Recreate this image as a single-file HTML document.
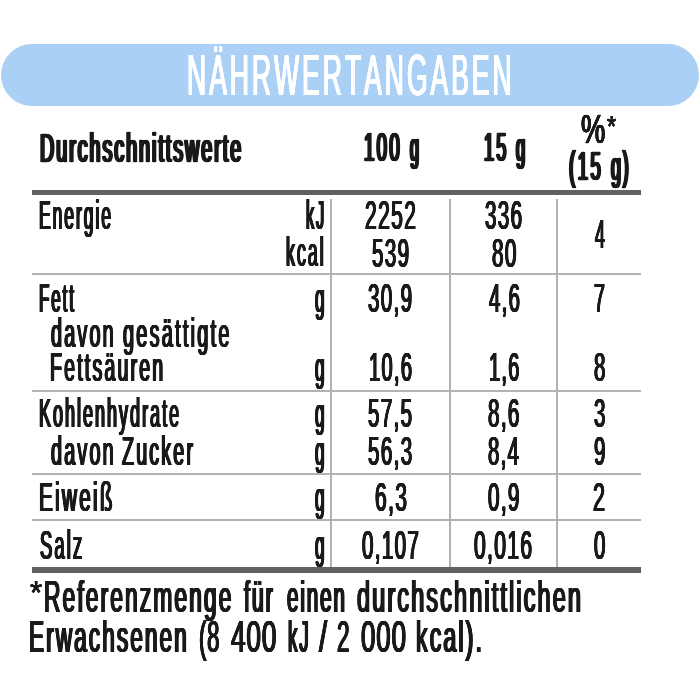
<!DOCTYPE html>
<html lang="de"><head><meta charset="utf-8"><title>Nährwertangaben</title>
<style>
html,body{margin:0;padding:0;background:#fff;}
body{width:700px;height:700px;position:relative;overflow:hidden;font-family:"Liberation Sans",sans-serif;color:#1a1a1a;}
.banner{position:absolute;left:1px;top:43.6px;width:697.5px;height:62px;border-radius:31px;background:#abd0f6;}
.x{position:absolute;white-space:nowrap;transform-origin:0 0;line-height:0;height:0;font-kerning:none;}
.t{color:#fff;font-weight:400;}
.h,.hn{font-weight:400;-webkit-text-stroke:0.7px #1a1a1a;}
.hp{font-weight:400;-webkit-text-stroke:0.5px #1a1a1a;}
.b,.n,.f,.fn{font-weight:400;}
.hl{position:absolute;left:32px;width:609px;background:#b2b2b2;height:2px;}
.tk{position:absolute;left:32px;width:609px;background:#606060;height:5.2px;}
.vl{position:absolute;top:199px;height:368px;width:2px;background:#b2b2b2;}
</style></head><body>
<div class="banner"></div>
<div class="tk" style="top:190px;height:5px"></div>
<div class="tk" style="top:567px;height:6px"></div>
<div class="hl" style="top:273px"></div>
<div class="hl" style="top:390px"></div>
<div class="hl" style="top:473px"></div>
<div class="hl" style="top:519px"></div>
<div class="vl" style="left:330px"></div>
<div class="vl" style="left:449px"></div>
<div class="vl" style="left:556px"></div>
<div class="x t" style="left:187.17px;top:74.90px;font-size:58.0px;transform:scaleX(0.4575);letter-spacing:6.50px;text-shadow:0.36px 0 0 #fff,-0.36px 0 0 #fff,0.73px 0 0 #fff,-0.73px 0 0 #fff,1.09px 0 0 #fff,-1.09px 0 0 #fff">NÄHRWERTANGABEN</div>
<div class="x h" style="left:39.54px;top:147.54px;font-size:40.0px;transform:scaleX(0.4931);letter-spacing:4.00px;text-shadow:0.84px 0 0 #1a1a1a,-0.84px 0 0 #1a1a1a,1.69px 0 0 #1a1a1a,-1.69px 0 0 #1a1a1a,2.53px 0 0 #1a1a1a,-2.53px 0 0 #1a1a1a">Durchschnittswerte</div>
<div class="x hn" style="left:363.52px;top:147.44px;font-size:40.0px;transform:scaleX(0.4659);letter-spacing:5.00px;text-shadow:0.82px 0 0 #1a1a1a,-0.82px 0 0 #1a1a1a,1.65px 0 0 #1a1a1a,-1.65px 0 0 #1a1a1a,2.47px 0 0 #1a1a1a,-2.47px 0 0 #1a1a1a">100</div>
<div class="x h" style="left:409.99px;top:147.44px;font-size:40.0px;transform:scaleX(0.4010);text-shadow:1.04px 0 0 #1a1a1a,-1.04px 0 0 #1a1a1a,2.08px 0 0 #1a1a1a,-2.08px 0 0 #1a1a1a,3.12px 0 0 #1a1a1a,-3.12px 0 0 #1a1a1a">g</div>
<div class="x hn" style="left:483.56px;top:147.44px;font-size:40.0px;transform:scaleX(0.4505);letter-spacing:5.00px;text-shadow:0.85px 0 0 #1a1a1a,-0.85px 0 0 #1a1a1a,1.70px 0 0 #1a1a1a,-1.70px 0 0 #1a1a1a,2.55px 0 0 #1a1a1a,-2.55px 0 0 #1a1a1a">15</div>
<div class="x h" style="left:515.98px;top:147.44px;font-size:40.0px;transform:scaleX(0.4112);text-shadow:1.01px 0 0 #1a1a1a,-1.01px 0 0 #1a1a1a,2.03px 0 0 #1a1a1a,-2.03px 0 0 #1a1a1a,3.04px 0 0 #1a1a1a,-3.04px 0 0 #1a1a1a">g</div>
<div class="x hp" style="left:580.79px;top:128.74px;font-size:40.0px;transform:scaleX(0.6812);text-shadow:0.29px 0 0 #1a1a1a,-0.29px 0 0 #1a1a1a,0.59px 0 0 #1a1a1a,-0.59px 0 0 #1a1a1a,0.88px 0 0 #1a1a1a,-0.88px 0 0 #1a1a1a">%</div>
<div class="x ha" style="left:607.35px;top:125.78px;font-size:29.5px;transform:scaleX(0.8000);text-shadow:0.15px 0 0 #1a1a1a,-0.15px 0 0 #1a1a1a,0.29px 0 0 #1a1a1a,-0.29px 0 0 #1a1a1a,0.44px 0 0 #1a1a1a,-0.44px 0 0 #1a1a1a">*</div>
<div class="x hn" style="left:568.87px;top:166.34px;font-size:40.0px;transform:scaleX(0.4704);letter-spacing:5.00px;text-shadow:0.81px 0 0 #1a1a1a,-0.81px 0 0 #1a1a1a,1.63px 0 0 #1a1a1a,-1.63px 0 0 #1a1a1a,2.44px 0 0 #1a1a1a,-2.44px 0 0 #1a1a1a">(15</div>
<div class="x h" style="left:611.46px;top:166.34px;font-size:40.0px;transform:scaleX(0.4466);letter-spacing:4.00px;text-shadow:0.93px 0 0 #1a1a1a,-0.93px 0 0 #1a1a1a,1.87px 0 0 #1a1a1a,-1.87px 0 0 #1a1a1a,2.80px 0 0 #1a1a1a,-2.80px 0 0 #1a1a1a">g)</div>
<div class="x b" style="left:38.79px;top:214.64px;font-size:40.0px;transform:scaleX(0.4370);letter-spacing:4.50px;text-shadow:0.53px 0 0 #1a1a1a,-0.53px 0 0 #1a1a1a,1.07px 0 0 #1a1a1a,-1.07px 0 0 #1a1a1a,1.60px 0 0 #1a1a1a,-1.60px 0 0 #1a1a1a">Energie</div>
<div class="x b" style="left:305.88px;top:214.64px;font-size:40.0px;transform:scaleX(0.4099);letter-spacing:4.50px;text-shadow:0.57px 0 0 #1a1a1a,-0.57px 0 0 #1a1a1a,1.14px 0 0 #1a1a1a,-1.14px 0 0 #1a1a1a,1.71px 0 0 #1a1a1a,-1.71px 0 0 #1a1a1a">kJ</div>
<div class="x b" style="left:286.41px;top:252.44px;font-size:40.0px;transform:scaleX(0.4458);letter-spacing:4.50px;text-shadow:0.52px 0 0 #1a1a1a,-0.52px 0 0 #1a1a1a,1.05px 0 0 #1a1a1a,-1.05px 0 0 #1a1a1a,1.57px 0 0 #1a1a1a,-1.57px 0 0 #1a1a1a">kcal</div>
<div class="x n" style="left:365.13px;top:214.64px;font-size:40.0px;transform:scaleX(0.5264);letter-spacing:2.60px;text-shadow:0.37px 0 0 #1a1a1a,-0.37px 0 0 #1a1a1a,0.73px 0 0 #1a1a1a,-0.73px 0 0 #1a1a1a,1.10px 0 0 #1a1a1a,-1.10px 0 0 #1a1a1a">2252</div>
<div class="x n" style="left:372.07px;top:252.54px;font-size:40.0px;transform:scaleX(0.5143);letter-spacing:2.60px;text-shadow:0.38px 0 0 #1a1a1a,-0.38px 0 0 #1a1a1a,0.75px 0 0 #1a1a1a,-0.75px 0 0 #1a1a1a,1.13px 0 0 #1a1a1a,-1.13px 0 0 #1a1a1a">539</div>
<div class="x n" style="left:485.07px;top:214.64px;font-size:40.0px;transform:scaleX(0.5143);letter-spacing:2.60px;text-shadow:0.38px 0 0 #1a1a1a,-0.38px 0 0 #1a1a1a,0.75px 0 0 #1a1a1a,-0.75px 0 0 #1a1a1a,1.13px 0 0 #1a1a1a,-1.13px 0 0 #1a1a1a">336</div>
<div class="x n" style="left:491.66px;top:252.54px;font-size:40.0px;transform:scaleX(0.5182);letter-spacing:2.60px;text-shadow:0.37px 0 0 #1a1a1a,-0.37px 0 0 #1a1a1a,0.75px 0 0 #1a1a1a,-0.75px 0 0 #1a1a1a,1.12px 0 0 #1a1a1a,-1.12px 0 0 #1a1a1a">80</div>
<div class="x n" style="left:594.58px;top:233.54px;font-size:40.0px;transform:scaleX(0.4473);text-shadow:0.43px 0 0 #1a1a1a,-0.43px 0 0 #1a1a1a,0.86px 0 0 #1a1a1a,-0.86px 0 0 #1a1a1a,1.30px 0 0 #1a1a1a,-1.30px 0 0 #1a1a1a">4</div>
<div class="x b" style="left:38.83px;top:297.74px;font-size:40.0px;transform:scaleX(0.4237);letter-spacing:4.50px;text-shadow:0.55px 0 0 #1a1a1a,-0.55px 0 0 #1a1a1a,1.10px 0 0 #1a1a1a,-1.10px 0 0 #1a1a1a,1.65px 0 0 #1a1a1a,-1.65px 0 0 #1a1a1a">Fett</div>
<div class="x b" style="left:314.67px;top:297.74px;font-size:40.0px;transform:scaleX(0.4316);text-shadow:0.54px 0 0 #1a1a1a,-0.54px 0 0 #1a1a1a,1.08px 0 0 #1a1a1a,-1.08px 0 0 #1a1a1a,1.62px 0 0 #1a1a1a,-1.62px 0 0 #1a1a1a">g</div>
<div class="x n" style="left:368.47px;top:297.74px;font-size:40.0px;transform:scaleX(0.5136);letter-spacing:2.60px;text-shadow:0.38px 0 0 #1a1a1a,-0.38px 0 0 #1a1a1a,0.75px 0 0 #1a1a1a,-0.75px 0 0 #1a1a1a,1.13px 0 0 #1a1a1a,-1.13px 0 0 #1a1a1a">30,9</div>
<div class="x n" style="left:488.58px;top:297.74px;font-size:40.0px;transform:scaleX(0.5077);letter-spacing:2.60px;text-shadow:0.38px 0 0 #1a1a1a,-0.38px 0 0 #1a1a1a,0.76px 0 0 #1a1a1a,-0.76px 0 0 #1a1a1a,1.14px 0 0 #1a1a1a,-1.14px 0 0 #1a1a1a">4,6</div>
<div class="x n" style="left:593.61px;top:297.74px;font-size:40.0px;transform:scaleX(0.4863);text-shadow:0.40px 0 0 #1a1a1a,-0.40px 0 0 #1a1a1a,0.80px 0 0 #1a1a1a,-0.80px 0 0 #1a1a1a,1.19px 0 0 #1a1a1a,-1.19px 0 0 #1a1a1a">7</div>
<div class="x b" style="left:50.51px;top:332.54px;font-size:40.0px;transform:scaleX(0.4930);letter-spacing:4.50px;text-shadow:0.47px 0 0 #1a1a1a,-0.47px 0 0 #1a1a1a,0.95px 0 0 #1a1a1a,-0.95px 0 0 #1a1a1a,1.42px 0 0 #1a1a1a,-1.42px 0 0 #1a1a1a">davon</div>
<div class="x b" style="left:122.50px;top:332.54px;font-size:40.0px;transform:scaleX(0.4974);letter-spacing:4.50px;text-shadow:0.47px 0 0 #1a1a1a,-0.47px 0 0 #1a1a1a,0.94px 0 0 #1a1a1a,-0.94px 0 0 #1a1a1a,1.41px 0 0 #1a1a1a,-1.41px 0 0 #1a1a1a">gesättigte</div>
<div class="x b" style="left:50.23px;top:366.84px;font-size:40.0px;transform:scaleX(0.4884);letter-spacing:4.50px;text-shadow:0.48px 0 0 #1a1a1a,-0.48px 0 0 #1a1a1a,0.96px 0 0 #1a1a1a,-0.96px 0 0 #1a1a1a,1.43px 0 0 #1a1a1a,-1.43px 0 0 #1a1a1a">Fettsäuren</div>
<div class="x b" style="left:314.67px;top:366.84px;font-size:40.0px;transform:scaleX(0.4316);text-shadow:0.54px 0 0 #1a1a1a,-0.54px 0 0 #1a1a1a,1.08px 0 0 #1a1a1a,-1.08px 0 0 #1a1a1a,1.62px 0 0 #1a1a1a,-1.62px 0 0 #1a1a1a">g</div>
<div class="x n" style="left:369.47px;top:366.94px;font-size:40.0px;transform:scaleX(0.5017);letter-spacing:2.60px;text-shadow:0.39px 0 0 #1a1a1a,-0.39px 0 0 #1a1a1a,0.77px 0 0 #1a1a1a,-0.77px 0 0 #1a1a1a,1.16px 0 0 #1a1a1a,-1.16px 0 0 #1a1a1a">10,6</div>
<div class="x n" style="left:489.08px;top:366.94px;font-size:40.0px;transform:scaleX(0.4993);letter-spacing:2.60px;text-shadow:0.39px 0 0 #1a1a1a,-0.39px 0 0 #1a1a1a,0.77px 0 0 #1a1a1a,-0.77px 0 0 #1a1a1a,1.16px 0 0 #1a1a1a,-1.16px 0 0 #1a1a1a">1,6</div>
<div class="x n" style="left:593.67px;top:366.94px;font-size:40.0px;transform:scaleX(0.5120);text-shadow:0.38px 0 0 #1a1a1a,-0.38px 0 0 #1a1a1a,0.76px 0 0 #1a1a1a,-0.76px 0 0 #1a1a1a,1.13px 0 0 #1a1a1a,-1.13px 0 0 #1a1a1a">8</div>
<div class="x b" style="left:38.75px;top:413.14px;font-size:40.0px;transform:scaleX(0.4491);letter-spacing:4.50px;text-shadow:0.52px 0 0 #1a1a1a,-0.52px 0 0 #1a1a1a,1.04px 0 0 #1a1a1a,-1.04px 0 0 #1a1a1a,1.56px 0 0 #1a1a1a,-1.56px 0 0 #1a1a1a">Kohlenhydrate</div>
<div class="x b" style="left:314.67px;top:413.14px;font-size:40.0px;transform:scaleX(0.4316);text-shadow:0.54px 0 0 #1a1a1a,-0.54px 0 0 #1a1a1a,1.08px 0 0 #1a1a1a,-1.08px 0 0 #1a1a1a,1.62px 0 0 #1a1a1a,-1.62px 0 0 #1a1a1a">g</div>
<div class="x n" style="left:368.47px;top:413.14px;font-size:40.0px;transform:scaleX(0.5136);letter-spacing:2.60px;text-shadow:0.38px 0 0 #1a1a1a,-0.38px 0 0 #1a1a1a,0.75px 0 0 #1a1a1a,-0.75px 0 0 #1a1a1a,1.13px 0 0 #1a1a1a,-1.13px 0 0 #1a1a1a">57,5</div>
<div class="x n" style="left:488.06px;top:413.14px;font-size:40.0px;transform:scaleX(0.5164);letter-spacing:2.60px;text-shadow:0.37px 0 0 #1a1a1a,-0.37px 0 0 #1a1a1a,0.75px 0 0 #1a1a1a,-0.75px 0 0 #1a1a1a,1.12px 0 0 #1a1a1a,-1.12px 0 0 #1a1a1a">8,6</div>
<div class="x n" style="left:593.67px;top:413.14px;font-size:40.0px;transform:scaleX(0.5120);text-shadow:0.38px 0 0 #1a1a1a,-0.38px 0 0 #1a1a1a,0.76px 0 0 #1a1a1a,-0.76px 0 0 #1a1a1a,1.13px 0 0 #1a1a1a,-1.13px 0 0 #1a1a1a">3</div>
<div class="x b" style="left:50.51px;top:451.14px;font-size:40.0px;transform:scaleX(0.4930);letter-spacing:4.50px;text-shadow:0.47px 0 0 #1a1a1a,-0.47px 0 0 #1a1a1a,0.95px 0 0 #1a1a1a,-0.95px 0 0 #1a1a1a,1.42px 0 0 #1a1a1a,-1.42px 0 0 #1a1a1a">davon</div>
<div class="x b" style="left:122.01px;top:451.14px;font-size:40.0px;transform:scaleX(0.4901);letter-spacing:4.50px;text-shadow:0.48px 0 0 #1a1a1a,-0.48px 0 0 #1a1a1a,0.95px 0 0 #1a1a1a,-0.95px 0 0 #1a1a1a,1.43px 0 0 #1a1a1a,-1.43px 0 0 #1a1a1a">Zucker</div>
<div class="x b" style="left:314.67px;top:451.14px;font-size:40.0px;transform:scaleX(0.4316);text-shadow:0.54px 0 0 #1a1a1a,-0.54px 0 0 #1a1a1a,1.08px 0 0 #1a1a1a,-1.08px 0 0 #1a1a1a,1.62px 0 0 #1a1a1a,-1.62px 0 0 #1a1a1a">g</div>
<div class="x n" style="left:368.46px;top:451.14px;font-size:40.0px;transform:scaleX(0.5160);letter-spacing:2.60px;text-shadow:0.37px 0 0 #1a1a1a,-0.37px 0 0 #1a1a1a,0.75px 0 0 #1a1a1a,-0.75px 0 0 #1a1a1a,1.12px 0 0 #1a1a1a,-1.12px 0 0 #1a1a1a">56,3</div>
<div class="x n" style="left:488.07px;top:451.14px;font-size:40.0px;transform:scaleX(0.5077);letter-spacing:2.60px;text-shadow:0.38px 0 0 #1a1a1a,-0.38px 0 0 #1a1a1a,0.76px 0 0 #1a1a1a,-0.76px 0 0 #1a1a1a,1.14px 0 0 #1a1a1a,-1.14px 0 0 #1a1a1a">8,4</div>
<div class="x n" style="left:593.67px;top:451.14px;font-size:40.0px;transform:scaleX(0.5120);text-shadow:0.38px 0 0 #1a1a1a,-0.38px 0 0 #1a1a1a,0.76px 0 0 #1a1a1a,-0.76px 0 0 #1a1a1a,1.13px 0 0 #1a1a1a,-1.13px 0 0 #1a1a1a">9</div>
<div class="x b" style="left:38.55px;top:497.14px;font-size:40.0px;transform:scaleX(0.5156);letter-spacing:4.50px;text-shadow:0.45px 0 0 #1a1a1a,-0.45px 0 0 #1a1a1a,0.91px 0 0 #1a1a1a,-0.91px 0 0 #1a1a1a,1.36px 0 0 #1a1a1a,-1.36px 0 0 #1a1a1a">Eiweiß</div>
<div class="x b" style="left:314.67px;top:497.14px;font-size:40.0px;transform:scaleX(0.4316);text-shadow:0.54px 0 0 #1a1a1a,-0.54px 0 0 #1a1a1a,1.08px 0 0 #1a1a1a,-1.08px 0 0 #1a1a1a,1.62px 0 0 #1a1a1a,-1.62px 0 0 #1a1a1a">g</div>
<div class="x n" style="left:374.53px;top:497.14px;font-size:40.0px;transform:scaleX(0.5254);letter-spacing:2.60px;text-shadow:0.37px 0 0 #1a1a1a,-0.37px 0 0 #1a1a1a,0.74px 0 0 #1a1a1a,-0.74px 0 0 #1a1a1a,1.10px 0 0 #1a1a1a,-1.10px 0 0 #1a1a1a">6,3</div>
<div class="x n" style="left:487.66px;top:497.14px;font-size:40.0px;transform:scaleX(0.5164);letter-spacing:2.60px;text-shadow:0.37px 0 0 #1a1a1a,-0.37px 0 0 #1a1a1a,0.75px 0 0 #1a1a1a,-0.75px 0 0 #1a1a1a,1.12px 0 0 #1a1a1a,-1.12px 0 0 #1a1a1a">0,9</div>
<div class="x n" style="left:593.10px;top:497.14px;font-size:40.0px;transform:scaleX(0.5389);text-shadow:0.36px 0 0 #1a1a1a,-0.36px 0 0 #1a1a1a,0.72px 0 0 #1a1a1a,-0.72px 0 0 #1a1a1a,1.08px 0 0 #1a1a1a,-1.08px 0 0 #1a1a1a">2</div>
<div class="x b" style="left:39.64px;top:545.44px;font-size:40.0px;transform:scaleX(0.4613);letter-spacing:4.50px;text-shadow:0.51px 0 0 #1a1a1a,-0.51px 0 0 #1a1a1a,1.01px 0 0 #1a1a1a,-1.01px 0 0 #1a1a1a,1.52px 0 0 #1a1a1a,-1.52px 0 0 #1a1a1a">Salz</div>
<div class="x b" style="left:314.67px;top:545.44px;font-size:40.0px;transform:scaleX(0.4316);text-shadow:0.54px 0 0 #1a1a1a,-0.54px 0 0 #1a1a1a,1.08px 0 0 #1a1a1a,-1.08px 0 0 #1a1a1a,1.62px 0 0 #1a1a1a,-1.62px 0 0 #1a1a1a">g</div>
<div class="x n" style="left:361.67px;top:545.44px;font-size:40.0px;transform:scaleX(0.5140);letter-spacing:2.60px;text-shadow:0.38px 0 0 #1a1a1a,-0.38px 0 0 #1a1a1a,0.75px 0 0 #1a1a1a,-0.75px 0 0 #1a1a1a,1.13px 0 0 #1a1a1a,-1.13px 0 0 #1a1a1a">0,107</div>
<div class="x n" style="left:474.45px;top:545.44px;font-size:40.0px;transform:scaleX(0.5251);letter-spacing:2.60px;text-shadow:0.37px 0 0 #1a1a1a,-0.37px 0 0 #1a1a1a,0.74px 0 0 #1a1a1a,-0.74px 0 0 #1a1a1a,1.10px 0 0 #1a1a1a,-1.10px 0 0 #1a1a1a">0,016</div>
<div class="x n" style="left:593.67px;top:545.44px;font-size:40.0px;transform:scaleX(0.5120);text-shadow:0.38px 0 0 #1a1a1a,-0.38px 0 0 #1a1a1a,0.76px 0 0 #1a1a1a,-0.76px 0 0 #1a1a1a,1.13px 0 0 #1a1a1a,-1.13px 0 0 #1a1a1a">0</div>
<div class="x ha" style="left:29.55px;top:592.99px;font-size:33.5px;transform:scaleX(0.9308);text-shadow:0.13px 0 0 #1a1a1a,-0.13px 0 0 #1a1a1a,0.25px 0 0 #1a1a1a,-0.25px 0 0 #1a1a1a,0.38px 0 0 #1a1a1a,-0.38px 0 0 #1a1a1a">*</div>
<div class="x f" style="left:43.95px;top:596.65px;font-size:44.3px;transform:scaleX(0.5160);letter-spacing:4.00px;text-shadow:0.52px 0 0 #1a1a1a,-0.52px 0 0 #1a1a1a,1.03px 0 0 #1a1a1a,-1.03px 0 0 #1a1a1a,1.55px 0 0 #1a1a1a,-1.55px 0 0 #1a1a1a">Referenzmenge</div>
<div class="x f" style="left:244.40px;top:596.65px;font-size:44.3px;transform:scaleX(0.4805);letter-spacing:4.00px;text-shadow:0.56px 0 0 #1a1a1a,-0.56px 0 0 #1a1a1a,1.11px 0 0 #1a1a1a,-1.11px 0 0 #1a1a1a,1.67px 0 0 #1a1a1a,-1.67px 0 0 #1a1a1a">für</div>
<div class="x f" style="left:286.83px;top:596.65px;font-size:44.3px;transform:scaleX(0.4654);letter-spacing:4.00px;text-shadow:0.57px 0 0 #1a1a1a,-0.57px 0 0 #1a1a1a,1.15px 0 0 #1a1a1a,-1.15px 0 0 #1a1a1a,1.72px 0 0 #1a1a1a,-1.72px 0 0 #1a1a1a">einen</div>
<div class="x f" style="left:356.67px;top:596.65px;font-size:44.3px;transform:scaleX(0.5299);letter-spacing:4.00px;text-shadow:0.50px 0 0 #1a1a1a,-0.50px 0 0 #1a1a1a,1.01px 0 0 #1a1a1a,-1.01px 0 0 #1a1a1a,1.51px 0 0 #1a1a1a,-1.51px 0 0 #1a1a1a">durchschnittlichen</div>
<div class="x f" style="left:29.27px;top:637.45px;font-size:44.3px;transform:scaleX(0.5116);letter-spacing:4.00px;text-shadow:0.52px 0 0 #1a1a1a,-0.52px 0 0 #1a1a1a,1.04px 0 0 #1a1a1a,-1.04px 0 0 #1a1a1a,1.56px 0 0 #1a1a1a,-1.56px 0 0 #1a1a1a">Erwachsenen</div>
<div class="x fn" style="left:198.90px;top:637.45px;font-size:44.3px;transform:scaleX(0.4993);letter-spacing:1.50px;text-shadow:0.40px 0 0 #1a1a1a,-0.40px 0 0 #1a1a1a,0.80px 0 0 #1a1a1a,-0.80px 0 0 #1a1a1a,1.20px 0 0 #1a1a1a,-1.20px 0 0 #1a1a1a">(8</div>
<div class="x fn" style="left:231.31px;top:637.45px;font-size:44.3px;transform:scaleX(0.5897);letter-spacing:1.50px;text-shadow:0.34px 0 0 #1a1a1a,-0.34px 0 0 #1a1a1a,0.68px 0 0 #1a1a1a,-0.68px 0 0 #1a1a1a,1.02px 0 0 #1a1a1a,-1.02px 0 0 #1a1a1a">400</div>
<div class="x f" style="left:288.14px;top:637.45px;font-size:44.3px;transform:scaleX(0.4288);letter-spacing:4.00px;text-shadow:0.62px 0 0 #1a1a1a,-0.62px 0 0 #1a1a1a,1.24px 0 0 #1a1a1a,-1.24px 0 0 #1a1a1a,1.87px 0 0 #1a1a1a,-1.87px 0 0 #1a1a1a">kJ</div>
<div class="x fn" style="left:318.60px;top:637.45px;font-size:44.3px;transform:scaleX(0.6615);text-shadow:0.30px 0 0 #1a1a1a,-0.30px 0 0 #1a1a1a,0.60px 0 0 #1a1a1a,-0.60px 0 0 #1a1a1a,0.91px 0 0 #1a1a1a,-0.91px 0 0 #1a1a1a">/</div>
<div class="x fn" style="left:336.58px;top:637.45px;font-size:44.3px;transform:scaleX(0.5095);text-shadow:0.39px 0 0 #1a1a1a,-0.39px 0 0 #1a1a1a,0.79px 0 0 #1a1a1a,-0.79px 0 0 #1a1a1a,1.18px 0 0 #1a1a1a,-1.18px 0 0 #1a1a1a">2</div>
<div class="x fn" style="left:361.42px;top:637.45px;font-size:44.3px;transform:scaleX(0.5843);letter-spacing:1.50px;text-shadow:0.34px 0 0 #1a1a1a,-0.34px 0 0 #1a1a1a,0.68px 0 0 #1a1a1a,-0.68px 0 0 #1a1a1a,1.03px 0 0 #1a1a1a,-1.03px 0 0 #1a1a1a">000</div>
<div class="x f" style="left:416.05px;top:637.45px;font-size:44.3px;transform:scaleX(0.5235);letter-spacing:4.00px;text-shadow:0.51px 0 0 #1a1a1a,-0.51px 0 0 #1a1a1a,1.02px 0 0 #1a1a1a,-1.02px 0 0 #1a1a1a,1.53px 0 0 #1a1a1a,-1.53px 0 0 #1a1a1a">kcal).</div>
</body></html>
